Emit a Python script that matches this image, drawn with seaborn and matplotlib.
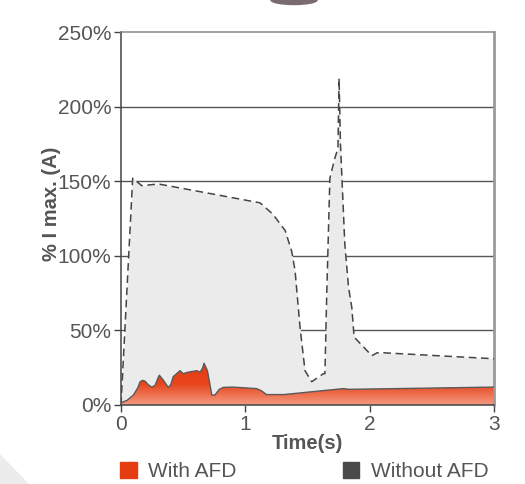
import numpy as np
import pandas as pd
import seaborn as sns
import matplotlib.pyplot as plt
import matplotlib.patches as mpatches
from matplotlib.colors import LinearSegmentedColormap
from matplotlib.ticker import FuncFormatter

# current without AFD (dashed, grey fill)
t_without = [0.0, 0.094, 0.167, 0.287, 0.31, 0.70, 1.118, 1.22, 1.32, 1.373, 1.40, 1.44, 1.48,
             1.534, 1.628, 1.64, 1.655, 1.68, 1.72, 1.745, 1.754, 1.765, 1.80, 1.83, 1.856,
             1.875, 1.95, 2.017, 2.06, 2.11, 3.0]
i_without = [0, 152, 147, 148, 148, 142, 135.5, 128, 117, 103, 90, 52, 23,
             15.6, 21, 21, 75, 152, 165.5, 172, 219, 175, 108, 79, 65.5,
             45.5, 39, 33, 35, 35, 31]

# current with AFD (red)
t_with = [0.0, 0.05, 0.1, 0.135, 0.153, 0.173, 0.193, 0.22, 0.247, 0.273, 0.295, 0.308, 0.34,
          0.38, 0.40, 0.42, 0.475, 0.50, 0.54, 0.61, 0.636, 0.655, 0.668, 0.695, 0.715, 0.73,
          0.756, 0.79, 0.823, 0.90, 1.09, 1.13, 1.17, 1.31, 1.79, 1.83, 3.0]
i_with = [1.5, 3.2, 6.7, 11.5, 15.5, 16.5, 16, 13.5, 12, 13, 17.5, 20, 16.7,
          11.8, 13.5, 19, 23, 21, 22, 23, 22, 24.5, 28, 23, 14, 6.7,
          6.7, 10.5, 11.8, 12, 11, 9.5, 7, 7, 11, 10.5, 12]

yticks = [0, 50, 100, 150, 200, 250]
xticks = [0, 1, 2, 3]

sns.set_style("white")
plt.rcParams['font.family'] = ['Liberation Sans', 'DejaVu Sans']

fig = plt.figure(figsize=(5.25, 4.84), dpi=100)
ax = fig.add_axes([121/525, 1-405/484, 373/525, 373/484])

df_wo = pd.DataFrame({'t': t_without, 'i': i_without})
df_w = pd.DataFrame({'t': t_with, 'i': i_with})

ax.fill_between(df_wo['t'], 0, df_wo['i'], color='#ebebeb', lw=0, zorder=1)
sns.lineplot(data=df_wo, x='t', y='i', ax=ax, color='#444444', lw=1.1,
             linestyle=(0, (5, 3)), zorder=3, sort=False)

# red gradient fill
poly = ax.fill_between(df_w['t'], 0, df_w['i'], color='none', lw=0, zorder=2)
cmap = LinearSegmentedColormap.from_list('afd', ['#f39a80', '#e8461e', '#e43a10'])
grad = np.linspace(0, 1, 256).reshape(-1, 1)
img = ax.imshow(grad, cmap=cmap, origin='lower', aspect='auto',
                extent=[0, 3, 0, 28], zorder=2)
img.set_clip_path(poly.get_paths()[0], transform=ax.transData)
sns.lineplot(data=df_w, x='t', y='i', ax=ax, color='#5a5a5a', lw=1.0, zorder=3)

ax.set_xlim(0, 3)
ax.set_ylim(0, 250)
ax.set_xticks(xticks)
ax.set_yticks(yticks)
ax.yaxis.set_major_formatter(FuncFormatter(lambda v, p: f'{int(v)}%'))
for y in yticks[1:-1]:
    ax.axhline(y, color='#555555', lw=1.0, zorder=0.5)

ax.tick_params(axis='both', direction='out', length=5, width=1, color='#444444',
               labelsize=15, labelcolor='#555555', pad=2, left=True, bottom=True)
ax.spines['left'].set_color('#444444')
ax.spines['bottom'].set_color('#444444')
ax.spines['top'].set_color('#8a8a8a')
ax.spines['right'].set_color('#9a9a9a')
ax.spines['right'].set_linewidth(2)
for s in ['left', 'bottom', 'top']:
    ax.spines[s].set_linewidth(1.1)

ax.set_xlabel('Time(s)', fontsize=14.5, fontweight='bold', color='#555555', labelpad=0)
ax.set_ylabel('% I max. (A)', fontsize=14.5, fontweight='bold', color='#555555')
ax.yaxis.set_label_coords(-0.16, 0.54)

handles = [mpatches.Patch(color='#e63c12', label='With AFD'),
           mpatches.Patch(color='#4a4a4a', label='Without AFD')]
leg = fig.legend(handles=handles, loc='upper left', ncol=2,
                 bbox_to_anchor=(120/525, 1-462/484), frameon=False,
                 borderpad=0, borderaxespad=0,
                 fontsize=15, handlelength=0.8, handleheight=0.8,
                 handletextpad=0.55, columnspacing=5.1)
for txt in leg.get_texts():
    txt.set_color('#555555')

# page decorations around the chart
fig.patches.append(mpatches.Ellipse((294/525, 1.0), 46/525, 9/484,
                                    transform=fig.transFigure, color='#7a6b72', zorder=0))
fig.patches.append(mpatches.Polygon([(0, 1-455/484), (28/525, 0), (0, 0)], closed=True,
                                    transform=fig.transFigure, color='#ececec', zorder=0))

fig.savefig('out.png', dpi=100)
